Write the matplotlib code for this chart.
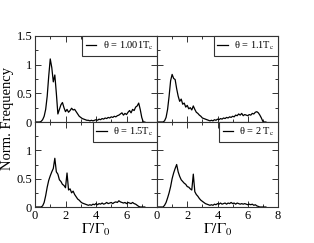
import matplotlib
matplotlib.use("Agg")
import matplotlib.pyplot as plt
import numpy as np
from matplotlib.ticker import MultipleLocator, FuncFormatter

plt.rcParams["font.family"] = ["Liberation Serif", "DejaVu Serif"]
plt.rcParams["mathtext.fontset"] = "stix"

# histogram bins, Gamma/Gamma_0
gamma = np.round(np.arange(0, 7.25, 0.1), 1)

freq_1001 = [0, 0, 0, 0, 0.01, 0.04, 0.10, 0.22, 0.45, 0.80,
             1.10, 0.95, 0.70, 0.82, 0.50, 0.14, 0.22, 0.30, 0.34, 0.25,
             0.18, 0.22, 0.17, 0.20, 0.24, 0.21, 0.22, 0.18, 0.14, 0.10,
             0.08, 0.06, 0.05, 0.04, 0.03, 0.03, 0.02, 0.03, 0.02, 0.03,
             0.04, 0.03, 0.05, 0.04, 0.06, 0.05, 0.07, 0.06, 0.08, 0.07,
             0.09, 0.08, 0.10, 0.09, 0.11, 0.12, 0.14, 0.16, 0.12, 0.15,
             0.13, 0.17, 0.20, 0.16, 0.22, 0.20, 0.26, 0.28, 0.33, 0.22,
             0.08, 0.0, 0]
freq_11 = [0, 0, 0, 0, 0, 0.02, 0.08, 0.22, 0.45, 0.72,
           0.83, 0.76, 0.74, 0.58, 0.45, 0.36, 0.40, 0.31, 0.33, 0.26,
           0.29, 0.23, 0.25, 0.21, 0.28, 0.22, 0.17, 0.15, 0.12, 0.10,
           0.07, 0.06, 0.05, 0.04, 0.03, 0.02, 0.03, 0.02, 0.04, 0.03,
           0.05, 0.04, 0.06, 0.05, 0.07, 0.06, 0.08, 0.07, 0.09, 0.08,
           0.10, 0.09, 0.12, 0.11, 0.14, 0.12, 0.15, 0.11, 0.13, 0.12,
           0.11, 0.13, 0.12, 0.15, 0.14, 0.17, 0.18, 0.16, 0.12, 0.07,
           0.01, 0, 0]
freq_15 = [0, 0, 0, 0, 0, 0.02, 0.08, 0.20, 0.35, 0.47,
           0.55, 0.62, 0.68, 0.86, 0.62, 0.58, 0.48, 0.45, 0.40, 0.38,
           0.34, 0.60, 0.30, 0.32, 0.25, 0.28, 0.22, 0.18, 0.14, 0.12,
           0.09, 0.07, 0.06, 0.05, 0.04, 0.03, 0.04, 0.03, 0.05, 0.04,
           0.06, 0.04, 0.06, 0.05, 0.07, 0.05, 0.06, 0.08, 0.06, 0.07,
           0.08, 0.06, 0.08, 0.09, 0.08, 0.11, 0.09, 0.08, 0.07, 0.08,
           0.06, 0.08, 0.07, 0.06, 0.08, 0.06, 0.05, 0.03, 0.01, 0,
           0, 0, 0]
freq_2 = [0, 0, 0, 0, 0, 0.03, 0.08, 0.16, 0.25, 0.36,
          0.50, 0.60, 0.68, 0.75, 0.62, 0.54, 0.48, 0.45, 0.42, 0.40,
          0.36, 0.35, 0.32, 0.30, 0.58, 0.27, 0.22, 0.19, 0.15, 0.12,
          0.10, 0.08, 0.06, 0.05, 0.04, 0.03, 0.04, 0.03, 0.05, 0.04,
          0.06, 0.05, 0.07, 0.05, 0.06, 0.07, 0.05, 0.07, 0.06, 0.08,
          0.06, 0.07, 0.05, 0.07, 0.06, 0.05, 0.06, 0.05, 0.06, 0.05,
          0.04, 0.05, 0.04, 0.05, 0.03, 0.04, 0.02, 0.01, 0, 0,
          0, 0, 0]

labels = ["θ = 1.001T$_{\\rm c}$", "θ = 1.1T$_{\\rm c}$",
          "θ = 1.5T$_{\\rm c}$", "θ = 2 T$_{\\rm c}$"]
series = [freq_1001, freq_11, freq_15, freq_2]

fig = plt.figure(figsize=(3.14, 2.43), dpi=100)
W, H = 314.0, 243.0
boxes = [(35, 36, 122, 86), (157, 36, 121, 86),
         (35, 122, 122, 85), (157, 122, 121, 85)]

fmt = FuncFormatter(lambda v, p: "%g" % v)
for i, (x0, y0, w, h) in enumerate(boxes):
    ax = fig.add_axes([x0 / W, 1 - (y0 + h) / H, w / W, h / H])
    ax.plot(gamma, series[i], color="black", linewidth=0.9, label=labels[i])
    ax.set_xlim(0, 8)
    ax.set_ylim(0, 1.5)
    ax.xaxis.set_major_locator(MultipleLocator(2))
    ax.xaxis.set_minor_locator(MultipleLocator(1))
    ax.yaxis.set_major_locator(MultipleLocator(0.5))
    ax.yaxis.set_minor_locator(MultipleLocator(0.25))
    ax.xaxis.set_major_formatter(fmt)
    ax.yaxis.set_major_formatter(fmt)
    ax.tick_params(which="both", direction="in", top=True, right=True,
                   labelsize=9, width=0.7, color="#333333", pad=2)
    ax.tick_params(which="major", length=4)
    ax.tick_params(which="minor", length=2)
    for s in ax.spines.values():
        s.set_linewidth(0.8)
        s.set_color("#333333")
    if i < 2:
        ax.tick_params(labelbottom=False)
    else:
        ax.set_xlabel(r"$\Gamma/\Gamma_0$", fontsize=11, labelpad=0)
        if i == 2:
            ax.set_xticks([0, 2, 4, 6])
            ax.set_yticks([0, 0.5, 1])
    if i % 2 == 1:
        ax.tick_params(labelleft=False)
    leg = ax.legend(loc="upper right", borderaxespad=0, fontsize=7.5,
                    handlelength=1.0, handletextpad=0.6, borderpad=0.35,
                    fancybox=False, framealpha=1)
    leg.get_frame().set_edgecolor("#333333")
    leg.get_frame().set_linewidth(0.8)

fig.text(8 / W, 1 - 118 / H, "Norm. Frequency", rotation=90,
         ha="center", va="center", fontsize=10.5)

fig.savefig("out.png", dpi=100)
